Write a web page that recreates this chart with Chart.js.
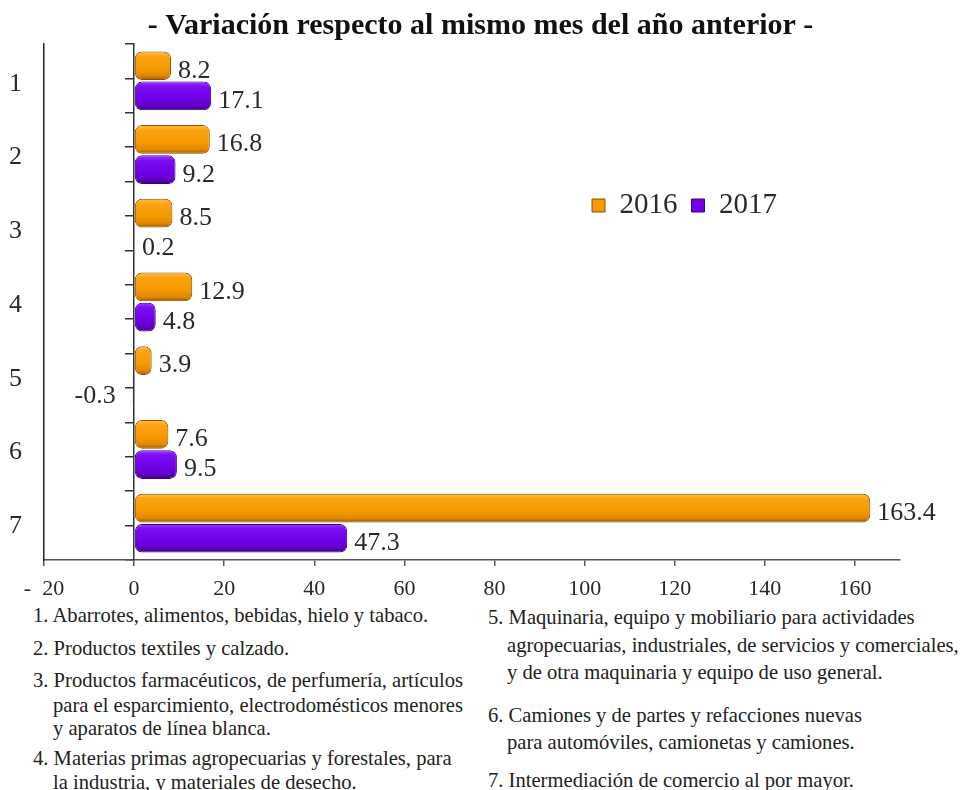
<!DOCTYPE html>
<html><head><meta charset="utf-8">
<script src="https://cdn.jsdelivr.net/npm/chart.js@4"></script>
<style>
html,body{margin:0;padding:0;background:#fff;width:961px;height:790px;overflow:hidden;}
#wrap{position:absolute;left:0;top:0;width:961px;height:600px;}
.note{position:absolute;font-family:"Liberation Serif","Times New Roman",serif;font-size:20.6px;color:#222;white-space:nowrap;line-height:24px;height:24px;}
</style></head><body>
<div id="wrap"><canvas id="c" width="961" height="600"></canvas></div>
<div id="notes"></div>
<script>
// ---- data ----
const categories = ['1','2','3','4','5','6','7'];
const values2016 = [8.2, 16.8, 8.5, 12.9, 3.9, 7.6, 163.4];
const values2017 = [17.1, 9.2, 0.2, 4.8, -0.3, 9.5, 47.3];
const seriesNames = ['2016', '2017'];
const xTickValues = [-20, 0, 20, 40, 60, 80, 100, 120, 140, 160];
const titleText = '- Variación respecto al mismo mes del año anterior -';
const noteLines = [
  '1. Abarrotes, alimentos, bebidas, hielo y tabaco.',
  '2. Productos textiles y calzado.',
  '3. Productos farmacéuticos, de perfumería, artículos',
  'para el esparcimiento, electrodomésticos menores',
  'y aparatos de línea blanca.',
  '4. Materias primas agropecuarias y forestales, para',
  'la industria, y materiales de desecho.',
  '5. Maquinaria, equipo y mobiliario para actividades',
  'agropecuarias, industriales, de servicios y comerciales,',
  'y de otra maquinaria y equipo de uso general.',
  '6. Camiones y de partes y refacciones nuevas',
  'para automóviles, camionetas y camiones.',
  '7. Intermediación de comercio al por mayor.'
];

// ---- layout (positions of note lines: x, center y) ----
const noteLayout = [
  [33,615],[33,648],[33,680],[53,705],[53,728],[33,758],[53,782],
  [488,617],[507,645],[507,672],[488,715],[507,742],[488,780]
];
const notesDiv = document.getElementById('notes');
noteLines.forEach((t,i)=>{
  const d = document.createElement('div');
  d.className = 'note';
  d.textContent = t;
  d.style.left = noteLayout[i][0] + 'px';
  d.style.top = (noteLayout[i][1] - 12) + 'px';
  notesDiv.appendChild(d);
});

const SERIF = '"Liberation Serif","Times New Roman",serif';
const gradStops = [
  [[0,'#FFC04A'],[0.18,'#FBA312'],[0.6,'#F59A00'],[0.85,'#E08800'],[1,'#9A5A00']],
  [[0,'#9A3CFF'],[0.18,'#7C0CF2'],[0.6,'#7000E6'],[0.85,'#5E00C4'],[1,'#3A0080']]
];
const flatColors = ['#F59A00', '#7000E6'];
const edgeColors = ['#8A5200', '#3A0080'];

const gradPlugin = {
  id: 'barGradient',
  beforeDatasetsDraw(chart) {
    const ctx = chart.ctx;
    chart.data.datasets.forEach((ds, i) => {
      const meta = chart.getDatasetMeta(i);
      meta.data.forEach(el => {
        const top = el.y - el.height / 2, bot = el.y + el.height / 2;
        const g = ctx.createLinearGradient(0, top, 0, bot);
        gradStops[i].forEach(([o, c]) => g.addColorStop(o, c));
        el.options = Object.assign({}, el.options, {backgroundColor: g});
      });
    });
  },
  afterDatasetsDraw(chart) {
    const ctx = chart.ctx;
    ctx.save();
    ctx.font = '26px ' + SERIF;
    ctx.fillStyle = '#2a2a2a';
    ctx.textBaseline = 'middle';
    chart.data.datasets.forEach((ds, i) => {
      const meta = chart.getDatasetMeta(i);
      meta.data.forEach((el, j) => {
        const v = ds.data[j];
        if (v >= 0) {
          ctx.textAlign = 'left';
          ctx.fillText(v.toFixed(1), Math.max(el.x, el.base) + 7, el.y + 5);
        } else {
          ctx.textAlign = 'right';
          ctx.fillText(v.toFixed(1), Math.min(el.x, el.base) - 17, el.y + 5);
        }
      });
    });
    ctx.restore();
  }
};

const LEGEND_PAD = 14;
const legendMover = {
  id: 'legendMover',
  beforeLayout(chart) {
    if (chart.legend) chart.legend.isHorizontal = () => true;
  },
  beforeDraw(chart) {
    const lg = chart.legend;
    const w = 260, h = 60;
    lg.left = 592 - LEGEND_PAD; lg.right = lg.left + w;
    lg.top = 208 - LEGEND_PAD - 17; lg.bottom = lg.top + h;
  }
};

new Chart(document.getElementById('c'), {
  type: 'bar',
  data: {
    labels: categories,
    datasets: [
      {label: seriesNames[0], data: values2016, backgroundColor: flatColors[0], borderColor: edgeColors[0]},
      {label: seriesNames[1], data: values2017, backgroundColor: flatColors[1], borderColor: edgeColors[1]}
    ]
  },
  options: {
    indexAxis: 'y',
    responsive: false,
    animation: false,
    devicePixelRatio: 1,
    categoryPercentage: 0.82,
    barPercentage: 0.95,
    datasets: {bar: {borderWidth: 1, borderRadius: 7, borderSkipped: false}},
    layout: {padding: 0},
    scales: {
      x: {
        type: 'linear', min: -20, max: 170,
        afterBuildTicks: s => { s.ticks = xTickValues.map(v => ({value: v})); },
        afterFit: s => { s.height = 40; },
        ticks: {
          font: {family: SERIF, size: 22}, color: '#2a2a2a', padding: 10,
          maxRotation: 0, autoSkip: false,
          callback: v => v < 0 ? '-  ' + Math.abs(v) : String(v)
        },
        grid: {drawOnChartArea: false, drawTicks: true, tickLength: 6, color: '#555', lineWidth: 1.5},
        border: {display: true, color: '#555', width: 1.5}
      },
      y: {
        type: 'category',
        afterFit: s => { s.width = 44; },
        ticks: {font: {family: SERIF, size: 26}, color: '#2a2a2a', padding: 22, labelOffset: 3},
        grid: {display: false, drawTicks: false},
        border: {display: true, color: '#222', width: 1.5}
      },
      yRightSpace: {
        type: 'category', axis: 'y', position: 'right',
        afterFit: s => { s.width = 61; },
        ticks: {display: false},
        grid: {display: false, drawTicks: false},
        border: {display: false}
      },
      y2: {
        type: 'linear', axis: 'y', min: 0, max: 14, position: {x: 0},
        ticks: {display: false, stepSize: 1},
        grid: {drawOnChartArea: false, drawTicks: true, tickLength: 8, color: '#333', lineWidth: 1.5},
        border: {display: true, color: '#333', width: 1.5}
      }
    },
    plugins: {
      title: {
        display: true, text: titleText,
        font: {family: SERIF, size: 30, weight: 'bold', lineHeight: 1.1}, color: '#111',
        padding: {top: 9.5, bottom: 1.5}
      },
      legend: {
        position: 'chartArea', align: 'start',
        labels: {font: {family: SERIF, size: 29}, color: '#2a2a2a', boxWidth: 13, boxHeight: 13, padding: LEGEND_PAD}
      },
      tooltip: {enabled: false}
    }
  },
  plugins: [gradPlugin, legendMover]
});
</script>
</body></html>
